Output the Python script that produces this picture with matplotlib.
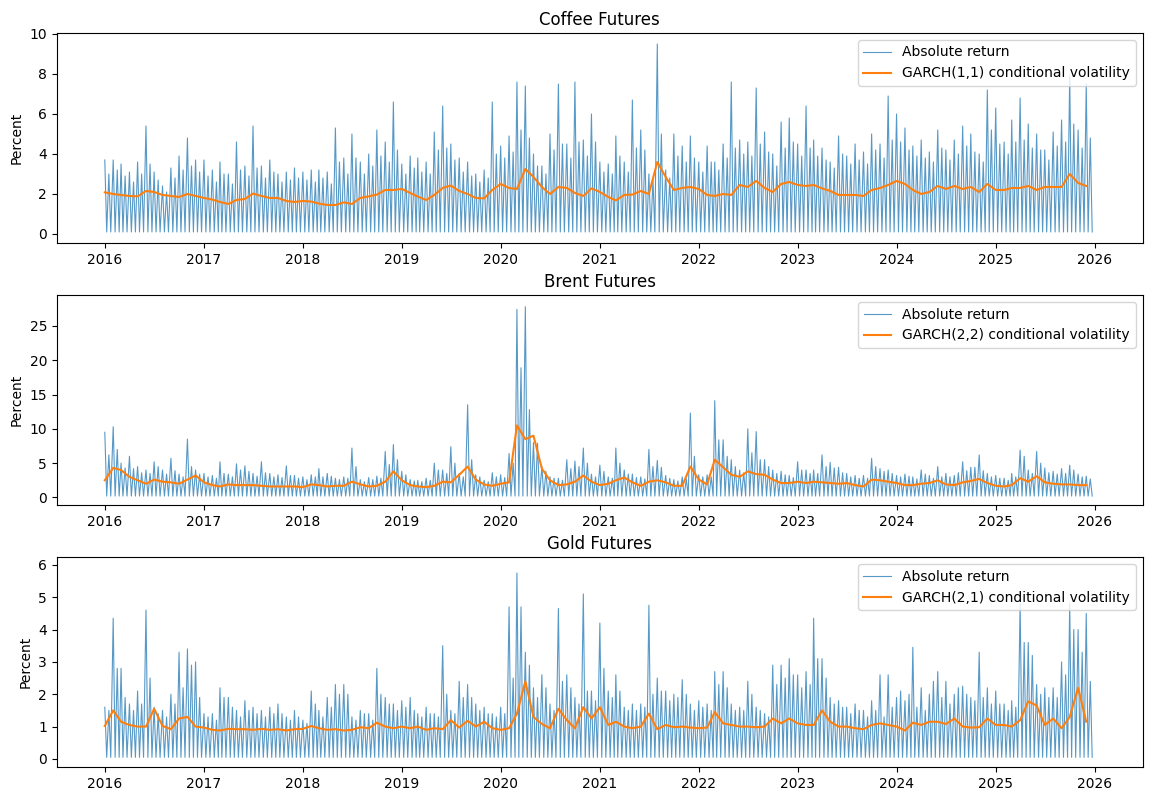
import numpy as np
import pandas as pd
import matplotlib
matplotlib.use("Agg")
import matplotlib.pyplot as plt

# Month starts, Jan 2016 - Dec 2025
months = pd.date_range("2016-01-01", periods=120, freq="MS")

# Coffee: monthly largest absolute return, typical band level, GARCH vol
coffee_peak = [3.7, 3.7, 3.5, 3.1, 3.6, 5.4, 3.1, 2.4, 3.3, 3.9, 4.8, 3.7,
               3.7, 3.2, 3.6, 3.0, 4.6, 3.4, 5.4, 3.4, 3.7, 3.0, 3.1, 3.3,
               3.1, 3.2, 3.2, 3.1, 5.3, 3.8, 5.0, 3.6, 4.0, 5.2, 4.6, 6.6,
               3.5, 3.9, 3.8, 3.6, 5.1, 6.4, 4.5, 3.8, 3.6, 3.0, 3.2, 6.6,
               4.4, 4.9, 7.6, 7.4, 4.0, 3.4, 5.0, 7.5, 4.5, 7.6, 4.7, 6.0,
               3.6, 3.5, 4.9, 3.6, 6.7, 5.2, 3.0, 9.5, 3.2, 5.0, 4.4, 4.9,
               3.6, 4.4, 3.6, 4.5, 7.6, 4.7, 4.6, 7.3, 5.1, 4.0, 5.6, 5.8,
               4.5, 6.4, 4.7, 4.3, 3.6, 4.9, 3.9, 4.5, 4.1, 5.0, 4.5, 6.9,
               6.0, 5.3, 4.4, 4.7, 4.1, 5.2, 4.2, 4.7, 5.4, 5.0, 4.0, 7.2,
               6.3, 4.6, 5.7, 6.8, 5.5, 5.0, 4.2, 5.1, 5.7, 7.9, 5.2, 7.5]
coffee_mid = [3.0, 3.2, 2.9, 2.6, 3.0, 3.5, 2.7, 2.1, 2.8, 3.2, 3.4, 3.1,
              2.9, 2.6, 3.0, 2.5, 3.2, 2.9, 3.3, 2.8, 3.1, 2.6, 2.7, 2.8,
              2.7, 2.6, 2.8, 2.5, 3.6, 3.0, 3.8, 3.0, 3.4, 3.9, 3.6, 4.2,
              3.0, 3.3, 3.1, 3.0, 4.2, 4.3, 3.7, 3.1, 2.9, 2.6, 2.8, 4.0,
              3.8, 4.1, 5.2, 4.8, 3.4, 3.0, 4.2, 4.5, 3.8, 4.6, 3.9, 4.6,
              3.1, 3.0, 3.9, 3.1, 4.3, 4.2, 2.7, 5.0, 2.8, 3.9, 3.6, 3.8,
              3.1, 3.6, 3.2, 3.8, 4.3, 4.0, 3.9, 4.5, 4.1, 3.4, 4.3, 4.6,
              3.9, 4.3, 3.9, 3.7, 3.3, 4.0, 3.5, 3.7, 3.5, 4.2, 3.8, 4.7,
              4.6, 4.2, 3.9, 3.8, 3.6, 4.3, 3.7, 4.0, 4.4, 4.1, 3.6, 5.2,
              4.5, 4.0, 4.6, 4.7, 4.3, 4.2, 3.7, 4.4, 4.6, 5.5, 4.3, 4.8]
coffee_vol = [2.08, 2.0, 1.95, 1.9, 1.88, 2.15, 2.1, 1.95, 1.9, 1.85, 2.0, 1.9,
              1.8, 1.72, 1.6, 1.5, 1.7, 1.75, 2.02, 1.9, 1.8, 1.8, 1.65, 1.6,
              1.65, 1.62, 1.52, 1.45, 1.45, 1.58, 1.5, 1.8, 1.88, 1.97, 2.2, 2.2,
              2.25, 2.05, 1.87, 1.7, 1.95, 2.3, 2.42, 2.15, 2.0, 1.8, 1.78, 2.2,
              2.5, 2.3, 2.25, 3.25, 2.85, 2.35, 2.0, 2.35, 2.3, 2.05, 1.9, 2.28,
              2.1, 1.85, 1.68, 1.95, 1.97, 2.15, 2.0, 3.6, 2.85, 2.2, 2.3, 2.35,
              2.25, 1.95, 1.9, 2.0, 1.95, 2.45, 2.35, 2.65, 2.3, 2.1, 2.5, 2.6,
              2.45, 2.4, 2.45, 2.28, 2.15, 1.95, 1.95, 1.95, 1.9, 2.2, 2.3, 2.45,
              2.65, 2.5, 2.2, 2.0, 2.1, 2.4, 2.25, 2.4, 2.25, 2.35, 2.1, 2.5,
              2.2, 2.2, 2.3, 2.3, 2.4, 2.2, 2.35, 2.35, 2.35, 3.0, 2.55, 2.4]
coffee_floor = 0.1

# Brent
brent_peak = [9.5, 10.3, 5.0, 6.0, 4.5, 4.0, 5.2, 4.0, 5.7, 3.4, 8.5, 4.0,
              3.5, 3.2, 5.2, 3.4, 4.9, 4.6, 3.5, 5.2, 3.5, 3.3, 4.6, 3.2,
              3.0, 3.3, 4.2, 3.5, 2.8, 3.0, 7.2, 2.6, 2.9, 3.1, 6.7, 7.7,
              3.8, 2.6, 2.5, 2.8, 5.0, 4.0, 7.4, 3.5, 13.5, 3.3, 2.5, 3.6,
              3.3, 6.4, 27.4, 27.8, 8.0, 4.5, 3.0, 2.8, 5.5, 5.3, 7.2, 3.4,
              4.7, 3.0, 7.2, 4.0, 3.4, 3.0, 7.0, 5.4, 3.2, 2.6, 3.0, 12.3,
              3.3, 3.3, 14.1, 8.4, 5.5, 4.0, 10.0, 9.6, 5.5, 4.0, 3.8, 3.2,
              5.2, 4.0, 4.0, 6.2, 5.1, 4.4, 3.5, 3.2, 3.2, 5.7, 4.2, 4.0,
              3.2, 3.4, 3.0, 4.0, 3.2, 4.5, 3.5, 3.2, 5.2, 4.4, 6.2, 3.5,
              3.2, 2.8, 3.5, 6.9, 4.0, 6.7, 4.3, 3.8, 4.2, 4.7, 3.4, 3.1]
brent_mid = [6.2, 7.0, 4.3, 4.2, 3.6, 3.5, 4.5, 3.4, 3.9, 3.0, 4.5, 3.4,
             3.0, 2.8, 3.5, 3.0, 4.0, 3.8, 3.1, 3.6, 3.0, 2.9, 3.2, 2.8,
             2.6, 3.0, 3.0, 3.1, 2.6, 2.8, 4.5, 2.3, 2.6, 2.8, 4.8, 5.5,
             3.3, 2.4, 2.3, 2.5, 4.0, 3.5, 5.0, 3.0, 5.5, 3.0, 2.3, 3.0,
             2.9, 5.0, 18.9, 12.8, 7.9, 3.8, 2.8, 2.5, 4.2, 4.5, 5.0, 3.0,
             3.8, 2.8, 5.0, 3.4, 2.9, 2.7, 4.5, 4.4, 2.8, 2.4, 2.7, 6.0,
             3.0, 3.0, 8.4, 6.0, 4.5, 3.6, 6.5, 5.5, 4.5, 3.5, 3.3, 2.9,
             4.0, 3.5, 3.5, 4.5, 4.3, 3.6, 3.0, 2.8, 2.8, 4.5, 3.8, 3.5,
             3.0, 3.1, 2.7, 3.4, 2.8, 3.0, 3.0, 3.6, 3.9, 4.4, 3.9, 3.0,
             2.8, 2.5, 3.0, 6.0, 3.5, 5.0, 3.6, 3.4, 3.5, 4.0, 3.0, 2.7]
brent_vol = [2.5, 4.3, 4.0, 3.0, 2.5, 2.0, 2.6, 2.3, 2.2, 2.0, 2.6, 3.2,
             2.2, 1.8, 1.6, 1.9, 1.8, 1.8, 1.8, 1.7, 1.6, 1.6, 1.6, 1.6,
             1.5, 1.9, 1.8, 1.6, 1.7, 1.7, 2.3, 1.9, 1.6, 1.7, 2.3, 3.8,
             2.5, 1.8, 1.6, 1.5, 1.7, 2.3, 2.2, 3.3, 4.5, 2.6, 1.9, 1.7,
             2.0, 2.2, 10.5, 8.5, 9.0, 4.2, 2.5, 1.8, 1.9, 2.3, 3.2, 2.3,
             1.8, 2.0, 2.5, 2.9, 2.2, 1.7, 2.3, 2.5, 2.2, 1.7, 1.7, 4.5,
             2.6, 1.9, 5.5, 4.4, 3.3, 3.0, 3.8, 3.4, 3.3, 2.6, 2.1, 2.1,
             2.3, 2.1, 2.3, 2.2, 2.1, 2.0, 2.1, 1.8, 1.6, 2.6, 2.5, 2.3,
             2.1, 1.8, 1.8, 2.0, 2.1, 2.5, 1.9, 1.8, 2.2, 2.4, 2.7, 2.1,
             1.7, 1.6, 1.8, 2.8, 2.3, 3.1, 2.2, 2.0, 1.9, 1.9, 1.8, 1.8]
brent_floor = 0.2

# Gold
gold_peak = [1.6, 4.35, 2.8, 1.7, 2.1, 4.6, 1.6, 1.5, 2.0, 3.3, 3.4, 3.0,
             1.4, 1.4, 2.2, 1.9, 1.5, 1.8, 1.6, 1.5, 1.6, 1.7, 1.3, 1.5,
             1.2, 2.1, 1.5, 1.9, 2.3, 2.3, 1.3, 1.5, 1.4, 2.8, 1.9, 1.7,
             1.8, 1.9, 1.4, 1.6, 1.4, 3.5, 1.5, 2.4, 2.3, 1.7, 1.6, 1.4,
             1.6, 4.7, 5.75, 3.3, 2.2, 2.6, 1.7, 4.65, 2.6, 1.9, 5.1, 2.1,
             4.2, 2.1, 2.6, 1.6, 1.7, 1.7, 4.75, 2.5, 2.1, 2.0, 2.45, 1.7,
             1.8, 1.7, 2.7, 2.7, 1.7, 1.6, 2.4, 1.6, 1.4, 2.9, 2.9, 3.1,
             2.6, 2.7, 4.35, 3.1, 1.9, 1.8, 1.6, 1.7, 1.5, 1.8, 2.6, 2.6,
             1.9, 1.8, 3.45, 2.2, 2.0, 2.7, 2.4, 2.0, 2.25, 1.9, 3.3, 2.2,
             2.1, 1.7, 1.8, 4.8, 3.6, 2.3, 2.2, 2.2, 3.0, 4.8, 4.0, 4.5]
gold_mid = [1.5, 2.8, 1.9, 1.5, 1.7, 2.5, 1.4, 1.3, 1.7, 2.2, 2.9, 1.9,
            1.3, 1.2, 1.9, 1.6, 1.3, 1.5, 1.4, 1.3, 1.4, 1.4, 1.2, 1.3,
            1.1, 1.7, 1.3, 1.6, 2.0, 2.0, 1.2, 1.4, 1.2, 2.0, 1.7, 1.5,
            1.6, 1.5, 1.3, 1.4, 1.3, 2.0, 1.4, 1.9, 1.9, 1.5, 1.4, 1.3,
            1.4, 2.5, 4.7, 2.9, 1.9, 2.2, 1.5, 2.4, 2.2, 1.7, 2.1, 1.8,
            2.8, 1.9, 2.1, 1.5, 1.5, 1.6, 2.0, 2.1, 1.8, 1.9, 2.0, 1.5,
            1.6, 1.5, 2.3, 2.2, 1.5, 1.5, 2.0, 1.5, 1.3, 2.3, 2.5, 2.6,
            2.2, 2.3, 3.1, 2.5, 1.7, 1.6, 1.4, 1.5, 1.3, 1.5, 1.3, 1.6,
            2.1, 2.0, 1.6, 1.5, 2.4, 1.9, 1.7, 2.2, 2.0, 1.8, 1.9, 1.7,
            1.7, 1.5, 1.6, 3.6, 3.2, 2.0, 1.9, 1.9, 2.6, 4.0, 3.3, 2.4]
gold_vol = [1.02, 1.5, 1.15, 1.05, 1.0, 1.0, 1.55, 1.02, 0.92, 1.25, 1.3, 1.0,
            0.97, 0.9, 0.88, 0.93, 0.92, 0.92, 0.9, 0.93, 0.9, 0.92, 0.88, 0.92,
            0.93, 1.02, 0.95, 0.9, 0.92, 0.88, 0.9, 0.98, 0.95, 1.12, 1.0, 0.95,
            1.0, 0.95, 1.0, 0.9, 0.95, 0.92, 1.2, 0.97, 1.18, 1.0, 1.15, 0.95,
            0.9, 0.95, 1.4, 2.4, 1.3, 1.08, 0.95, 1.55, 1.2, 0.95, 1.6, 1.25,
            1.6, 1.05, 1.15, 1.0, 0.95, 1.0, 1.4, 0.92, 1.05, 0.98, 1.0, 0.97,
            0.95, 0.97, 1.45, 1.1, 1.05, 1.0, 1.0, 0.98, 1.0, 1.25, 1.1, 1.25,
            1.1, 1.05, 1.05, 1.5, 1.15, 1.0, 1.0, 0.95, 0.92, 1.05, 1.1, 1.05,
            1.0, 0.88, 1.12, 1.05, 1.15, 1.15, 1.08, 1.25, 1.0, 0.97, 0.98, 1.25,
            1.05, 1.05, 1.0, 1.2, 1.78, 1.65, 1.05, 1.25, 0.95, 1.3, 2.2, 1.15]
gold_floor = 0.05

titles = ["Coffee Futures", "Brent Futures", "Gold Futures"]
models = ["GARCH(1,1)", "GARCH(2,2)", "GARCH(2,1)"]


def abs_return(peak, mid, floor):
    # four points a month: peak, floor, band, floor
    m = months.values
    day = np.timedelta64(1, "D")
    x = np.column_stack([m, m + 7 * day, m + 15 * day, m + 22 * day]).ravel()
    low = np.full(len(peak), floor)
    y = np.column_stack([peak, low, mid, low]).ravel()
    return x, y


panels = [
    (coffee_peak, coffee_mid, coffee_floor, coffee_vol, (-0.45, 10.05)),
    (brent_peak, brent_mid, brent_floor, brent_vol, (-1.1, 29.5)),
    (gold_peak, gold_mid, gold_floor, gold_vol, (-0.25, 6.24)),
]

fig, axes = plt.subplots(3, 1, figsize=(11.6, 7.97))
fig.subplots_adjust(left=0.049, right=0.985, top=0.9586, bottom=0.0376, hspace=0.248)

for ax, title, model, (peak, mid, floor, vol, ylim) in zip(axes, titles, models, panels):
    x, y = abs_return(peak, mid, floor)
    ax.plot(x, y, color="C0", linewidth=0.8, alpha=0.75, label="Absolute return")
    ax.plot(months, vol, color="C1", linewidth=1.5,
            label=f"{model} conditional volatility")
    ax.set_title(title)
    ax.set_ylabel("Percent")
    ax.set_ylim(*ylim)
    ax.set_xlim(pd.Timestamp("2015-07-08"), pd.Timestamp("2026-06-27"))
    ax.legend(loc="upper right")

plt.savefig("out.png", dpi=100)
plt.close()
